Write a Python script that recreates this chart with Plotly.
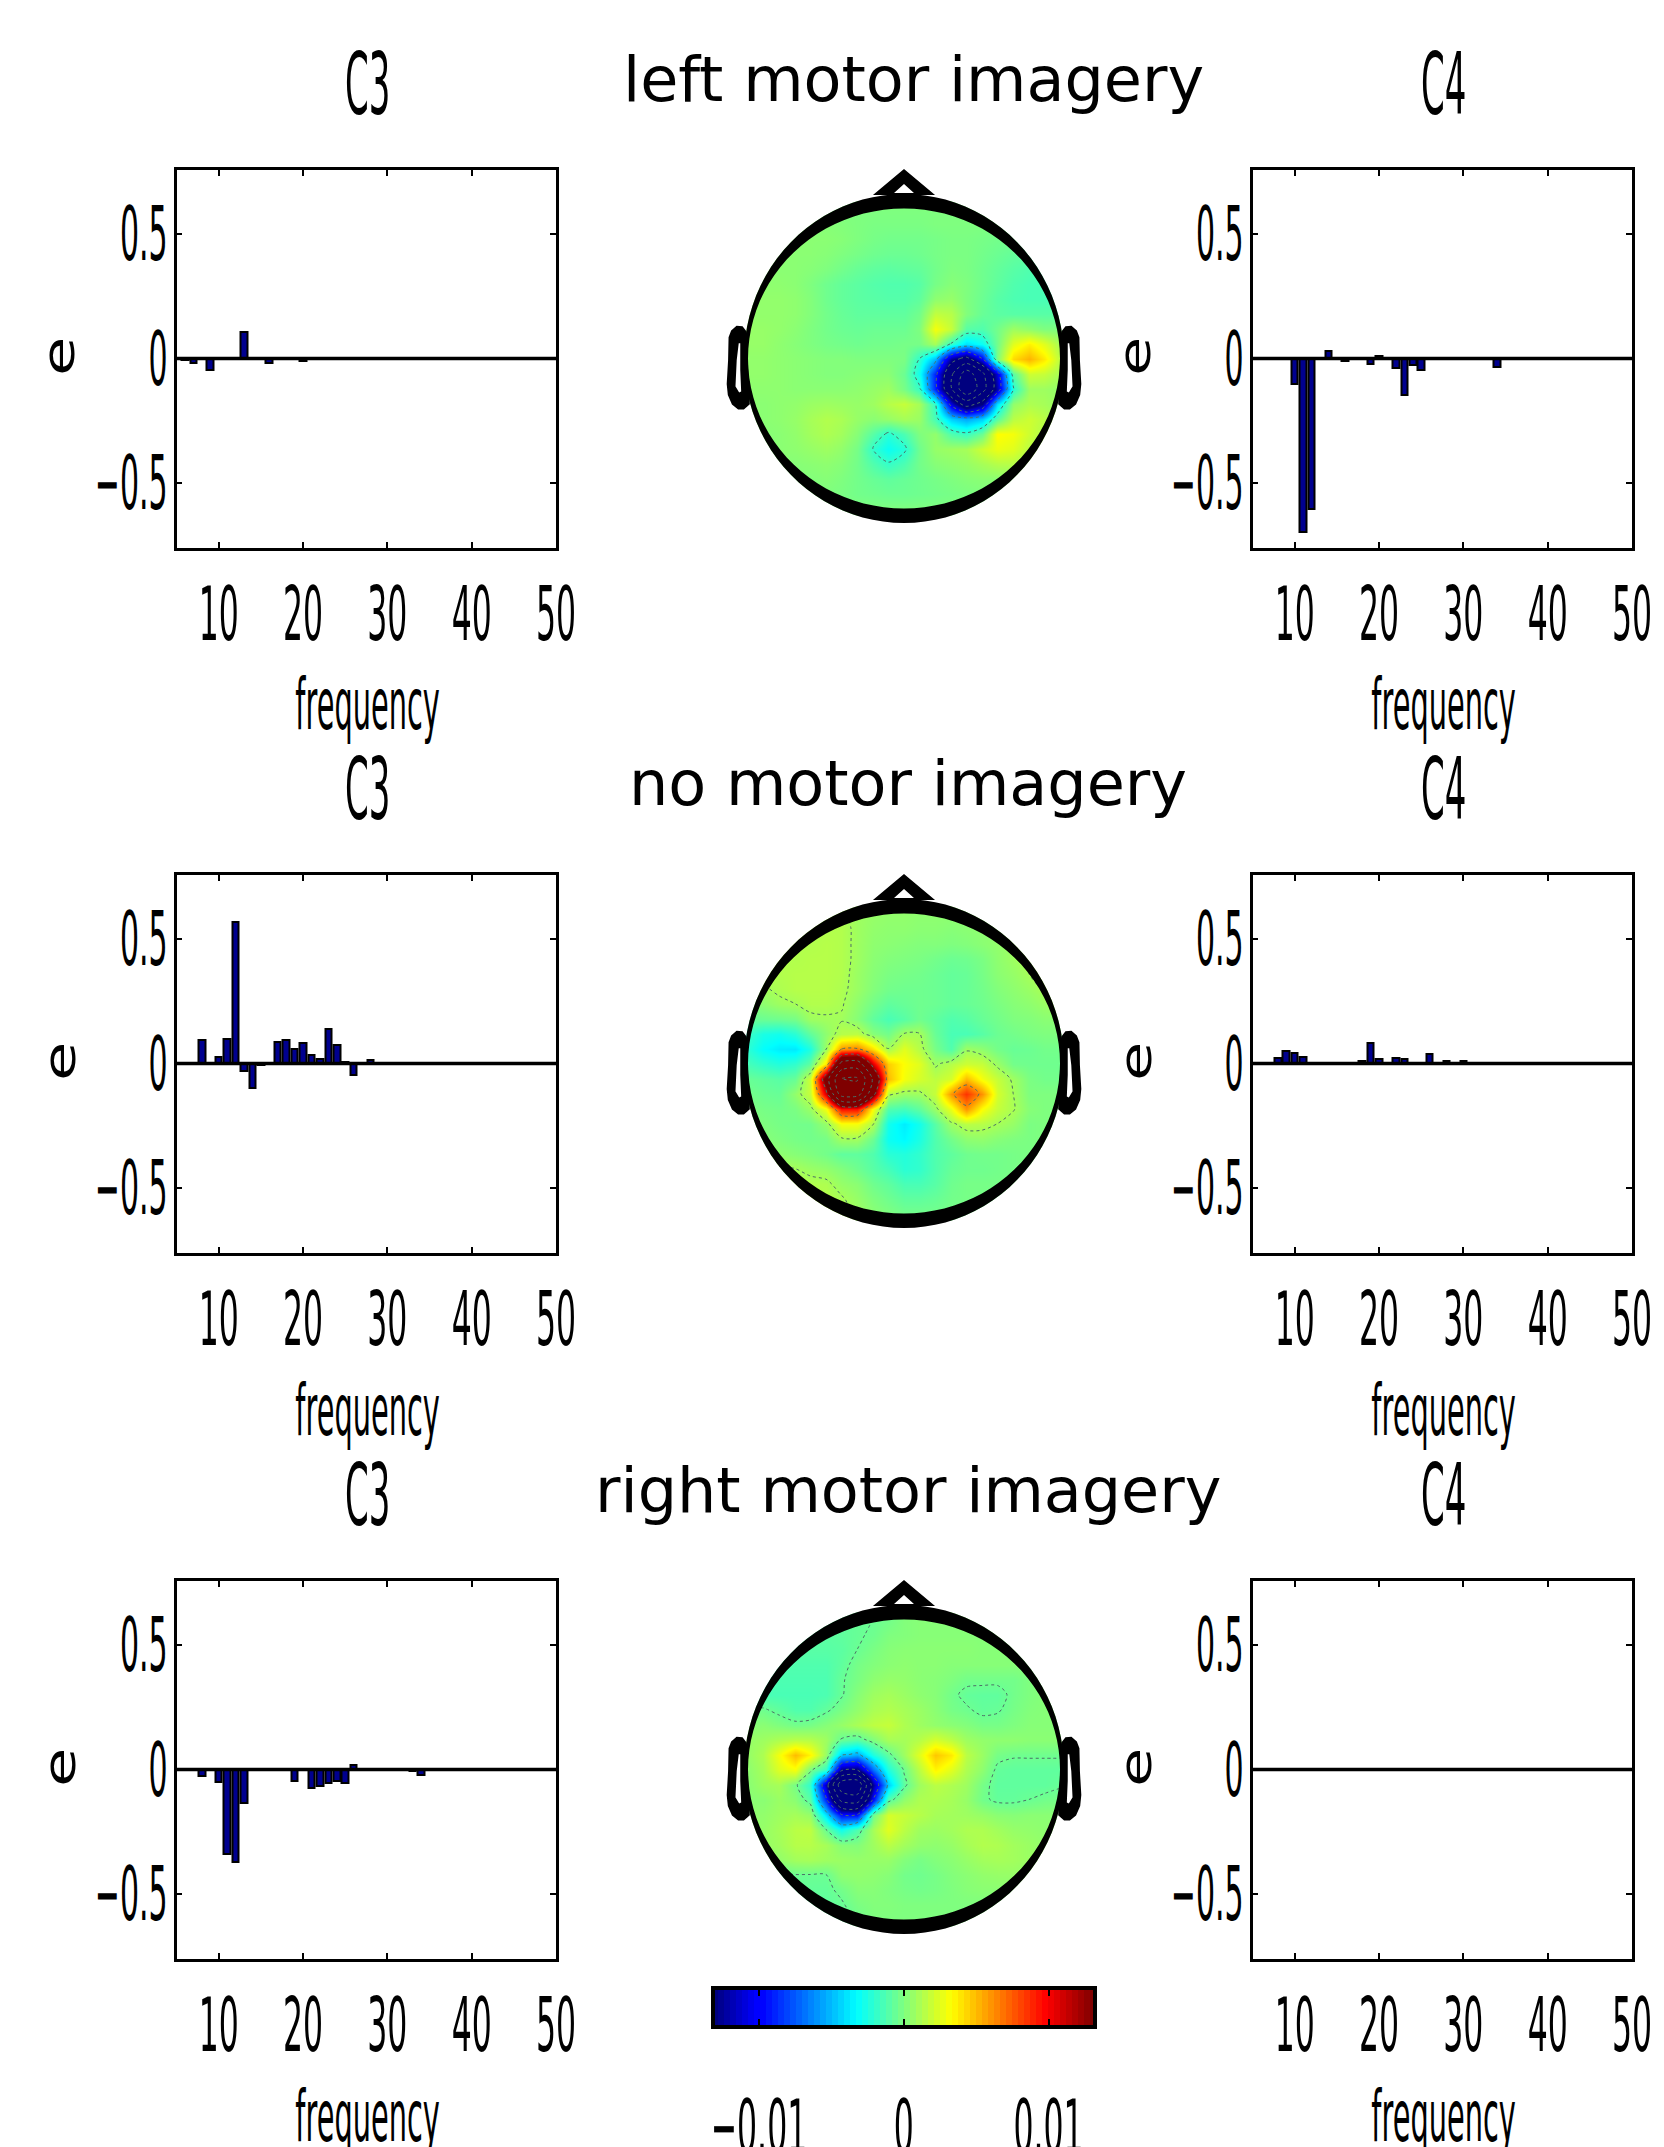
import numpy as np
import plotly.graph_objects as go

W, H = 1664, 2147

# ---------- data ----------
freq = list(range(6, 51))
freq_ticks = [10, 20, 30, 40, 50]
theta_ticks = [-0.5, 0, 0.5]
tail = [0] * 5

left_c3 = [-.005, -.02, 0, -.048, 0, 0, 0, .105, 0, 0, -.02, 0, 0, 0, -.012, 0, 0, 0, 0, 0,
           .004, .004, 0, 0, 0] + tail * 4
left_c4 = [0, 0, 0, 0, -.101, -.698, -.604, 0, .03, 0, -.009, 0, 0, -.021, .009,
           0, -.037, -.148, -.025, -.047, 0, -.003, 0, 0, 0, 0, 0, 0, -.033, 0] + tail * 3
none_c3 = [0, 0, .094, .004, .027, .098, .568, -.029, -.098, -.005, .003, .087, .094, .06, .082,
           .033, .02, .139, .076, .008, -.045, .003, .013, 0, 0] + tail * 4
none_c4 = [0, 0, .024, .05, .044, .027, 0, 0, 0, 0, .003, 0, .009, .084, .02,
           .002, .024, .017, 0, .003, .037, 0, .012, 0, .009] + tail * 4
right_c3 = [0, 0, -.027, -.003, -.05, -.34, -.372, -.135, 0, 0, 0, -.002, 0, -.048, 0,
            -.076, -.068, -.055, -.045, -.056, .02, -.003, -.003, 0, .002, 0, 0, -.005, -.024, 0] + tail * 3
right_c4 = [0] * 45

row_titles = ["left motor imagery", "no motor imagery", "right motor imagery"]
channels = ["C3", "C4"]
colorbar_ticks = [-0.01, 0, 0.01]
colorbar_labels = ["−0.01", "0", "0.01"]

# scalp maps, in units of 1e-4, top row first, left column first
map_left = [
    [0] * 21,
    [2,2,2,2,2,2,1,0,-1,-1,-1,-1,0,0,0,0,-1,-1,-1,-1,-1],
    [3,3,3,3,3,3,2,0,-2,-3,-3,-3,-2,-1,-1,-2,-3,-3,-3,-3,-3],
    [3,3,3,3,3,2,0,-2,-4,-5,-5,-4,-2,-1,-1,-3,-5,-7,-8,-8,-8],
    [3,3,3,3,2,0,-3,-6,-8,-9,-8,-7,-3,0,-1,-4,-7,-10,-12,-12,-12],
    [4,4,4,3,0,-4,-7,-9,-11,-12,-12,-10,-2,2,0,-4,-8,-12,-14,-14,-14],
    [5,5,5,4,1,-4,-7,-9,-10,-11,-11,-8,4,6,0,-5,-10,-13,-14,-14,-14],
    [5,5,5,4,1,-3,-6,-8,-8,-8,-8,-3,17,14,1,-6,-9,-10,-10,-10,-10],
    [6,6,5,3,0,-3,-5,-6,-5,-5,-5,0,30,18,-10,-12,-3,8,4,0,0],
    [6,6,4,2,0,-2,-3,-4,-3,-3,-2,-2,10,-20,-40,-30,-3,25,36,25,10],
    [5,5,4,3,2,1,1,0,0,0,-1,-20,-50,-125,-150,-100,0,42,52,38,15],
    [5,5,4,3,2,1,1,2,3,3,-5,-28,-90,-170,-240,-190,-110,-10,20,18,10],
    [4,4,4,3,3,3,3,4,6,8,-2,-18,-90,-175,-260,-200,-120,-22,8,8,5],
    [3,3,4,5,7,8,7,6,8,14,18,10,-20,-110,-160,-130,-40,5,12,10,6],
    [3,3,4,6,10,13,11,6,3,6,10,7,-15,-45,-55,-45,-10,15,20,15,8],
    [2,2,3,5,9,12,9,2,-10,-22,-13,0,5,-12,-18,-5,33,30,20,12,6],
    [2,2,3,4,6,8,5,-2,-20,-30,-23,-4,6,8,10,20,28,25,15,8,4],
    [1,1,2,2,3,4,2,-3,-12,-19,-13,-3,2,4,6,10,14,14,6,3,2],
    [0,0,0,1,1,2,0,-3,-6,-8,-6,-4,-2,0,2,3,3,3,1,0,0],
    [0,0,0,0,0,0,-1,-3,-4,-5,-5,-4,-3,-2,-1,0,0,0,0,0,0],
    [0] * 21,
]
map_none = [
    [11,11,11,11,11,11,11,8,6,5,5,4,4,4,4,4,4,4,4,4,4],
    [12,12,12,12,12,13,13,8,5,4,4,3,3,2,3,4,4,5,6,6,6],
    [13,13,13,13,13,14,13,8,4,3,2,1,1,0,1,3,5,7,8,9,9],
    [13,13,13,13,14,14,13,8,3,1,0,-1,-3,-5,-4,-1,4,8,11,12,12],
    [13,13,13,14,14,14,13,7,2,-1,-2,-3,-5,-7,-6,-2,3,6,10,13,13],
    [6,9,12,14,14,14,12,7,1,-3,-4,-4,-5,-7,-6,-3,1,4,7,11,13],
    [2,4,8,10,13,13,11,4,-3,-8,-6,-4,-5,-7,-6,-4,-1,2,4,7,10],
    [-6,-5,-4,-2,8,9,9,2,-8,-14,-10,-4,-8,-12,-10,-6,-3,0,1,3,3],
    [-18,-26,-28,-22,-8,4,14,16,2,-3,10,10,-6,-14,-14,-10,-5,-3,-1,0,0],
    [-22,-32,-37,-38,-25,8,60,65,40,10,25,14,-2,-12,8,4,-3,-6,-5,-3,-3],
    [-15,-20,-24,-20,-8,40,190,200,105,45,32,25,8,14,20,18,7,-3,-4,-4,-4],
    [-6,-8,-10,-6,20,150,285,290,170,50,30,22,16,22,50,30,18,8,-1,-3,-3],
    [-3,-5,-6,5,18,110,260,260,140,14,7,8,18,60,85,60,22,10,0,0,0],
    [0,-2,-3,-1,7,30,95,95,30,-12,-15,-8,7,28,60,32,18,11,2,0,0],
    [2,0,-2,-3,-3,6,30,30,12,-28,-37,-28,-10,8,15,14,10,6,-1,0,0],
    [4,2,0,-2,-3,-2,9,9,-5,-30,-34,-26,-12,-3,4,5,2,0,-1,0,0],
    [7,6,4,2,0,-3,-8,-8,-12,-22,-24,-20,-12,-8,-4,-3,-3,-2,-1,0,0],
    [11,11,11,10,7,5,1,-4,-10,-15,-22,-20,-12,-6,-4,-4,-3,-2,-1,0,0],
    [14,14,14,13,13,12,6,3,-4,-8,-14,-14,-10,-4,-2,-2,-2,-1,0,0,0],
    [14,14,14,14,14,14,11,6,0,-4,-8,-8,-6,-3,-2,-2,-2,-1,0,0,0],
    [14,14,14,14,14,14,14,8,3,0,-3,-3,-3,-2,-2,-2,-2,-1,0,0,0],
]
map_right = [
    [-8,-8,-8,-8,-8,-8,-8,-6,-5,-3,1,2,2,2,2,2,2,2,2,2,2],
    [-9,-9,-9,-9,-9,-9,-8,-6,-4,0,1,2,2,2,2,2,2,2,2,2,2],
    [-10,-10,-10,-10,-10,-10,-9,-5,-1,2,3,3,3,3,3,2,2,2,2,2,2],
    [-12,-12,-12,-12,-12,-12,-8,-2,1,3,4,3,3,2,2,2,2,2,2,2,2],
    [-13,-13,-13,-13,-13,-13,-6,-1,4,6,5,3,2,0,-3,-3,-3,-3,0,2,2],
    [-14,-14,-14,-14,-14,-13,-6,2,8,10,7,4,2,-3,-7,-8,-8,-3,0,2,2],
    [-3,-4,-8,-12,-12,-7,-1,5,11,13,10,7,3,-2,-4,-7,-6,-2,1,2,2],
    [2,3,0,-3,-2,2,6,11,16,18,12,8,5,3,1,-2,-2,0,2,2,2],
    [6,8,12,15,14,8,-6,-10,0,10,10,14,22,16,8,5,4,4,3,3,3],
    [6,12,30,50,35,6,-45,-55,-25,-8,8,25,47,38,15,7,-2,-4,-4,-4,-4],
    [4,10,24,30,-2,-20,-130,-135,-70,-25,-4,15,35,25,12,4,-7,-8,-8,-8,-8],
    [3,8,10,-2,-20,-120,-260,-270,-125,-45,-8,8,15,12,8,-2,-8,-8,-8,-8,-6],
    [3,3,7,3,-10,-90,-200,-210,-95,-10,5,12,12,10,6,-3,-7,-7,-5,-3,-2],
    [4,5,8,10,6,-40,-95,-95,-4,22,18,14,10,9,8,6,3,2,3,3,3],
    [5,6,10,15,16,-5,-28,-12,10,25,15,8,7,9,12,12,9,6,5,4,4],
    [4,6,9,14,14,10,2,1,8,15,9,5,4,6,10,13,12,9,7,5,4],
    [2,3,5,9,10,8,7,6,6,6,1,-2,1,3,6,9,10,9,7,5,4],
    [-6,-6,-6,-5,-5,-5,4,5,4,2,-3,-4,-2,1,3,5,6,6,4,2,2],
    [-7,-7,-7,-7,-7,-7,-3,2,2,0,-2,-3,-2,0,2,3,3,3,2,1,1],
    [-8,-8,-8,-8,-8,-8,-6,-1,1,1,0,0,0,0,0,0,0,0,0,0,0],
    [-8,-8,-8,-8,-8,-8,-8,-4,0,0,0,0,0,0,0,0,0,0,0,0,0],
]

bars = [[left_c3, left_c4], [none_c3, none_c4], [right_c3, right_c4]]
maps = [map_left, map_none, map_right]
contour_spec = [(-260, -20, 40), (10, 300, 55), (-275, -5, 45)]

# ---------- styles and layout ----------
jet = [[0, "#00007f"], [0.11, "#0000ff"], [0.125, "#0000ff"], [0.375, "#00ffff"],
       [0.5, "#7fff7f"], [0.625, "#ffff00"], [0.875, "#ff0000"], [1, "#7f0000"]]
CLIM = 0.01307
FONT = "DejaVu Sans"
TICK_SIZE = 75
row_zero = [358.5, 1063.5, 1769.5]
panel_up, panel_down = 188.5, 189.5
panel_x = [(176.5, 556), (1252.5, 1632)]
y_per_unit = 249.0
head_cx, head_rx, head_ry = 904, 156, 150
head_frame = (720, 1088)
head_up, head_down = 195, 170
grid_u = np.linspace(-1, 1, 21)
grid_v = np.linspace(1, -1, 21)


def xdom(a, b):
    return [a / W, b / W]


def ydom(top, bottom):
    return [1 - bottom / H, 1 - top / H]


def ellipse(rx, ry, n=96):
    t = np.linspace(0, 2 * np.pi, n, endpoint=False)
    pts = [f"{rx*np.cos(a):.4f},{ry*np.sin(a):.4f}" for a in t]
    return "M" + " L".join(pts) + " Z"


def poly(pts, sign=1):
    return "M" + " L".join(f"{sign*x:.4f},{y:.4f}" for x, y in pts) + " Z"


ear_outer = [(-1.019, .177), (-1.04, .205), (-1.07, .208), (-1.10, .18), (-1.115, .14),
             (-1.118, -.011), (-1.127, -.17), (-1.12, -.24), (-1.095, -.30), (-1.06, -.33),
             (-1.03, -.33), (-.998, -.30)]
ear_inner = [(-1.068, .111), (-1.04, .111), (-1.04, -.077), (-1.034, -.225), (-1.06, -.24),
             (-1.09, -.188), (-1.082, -.011)]
nose_outer = [(-.199, 1.09), (0, 1.263), (.199, 1.09)]
nose_inner = [(-.064, 1.103), (0, 1.163), (.064, 1.103)]
OUTER_RX, OUTER_RY = 160 / 156, 164.5 / 150

fig = go.Figure()
layout = dict(template="none", width=W, height=H, margin=dict(l=0, r=0, t=0, b=0, pad=0),
              paper_bgcolor="white",
              plot_bgcolor="white", showlegend=False, bargap=0, barmode="overlay",
              font=dict(family=FONT, color="black"))
shapes, annotations = [], []
ulim = (head_frame[1] - head_cx) / head_rx


def note(text, px, py, size=72, angle=0):
    annotations.append(dict(text=text, x=px / W, y=1 - py / H, xref="paper", yref="paper",
                            xanchor="center", yanchor="middle", showarrow=False, textangle=angle,
                            font=dict(family=FONT, size=size, color="black")))


for r in range(3):
    y0 = row_zero[r]
    for c in range(2):
        n = 3 * r + (1 if c == 0 else 3)
        xa, ya = f"x{n}", f"y{n}"
        fig.add_trace(go.Bar(x=freq, y=bars[r][c], width=0.78, xaxis=xa, yaxis=ya,
                             marker=dict(color="#00008f", line=dict(color="black", width=2))))
        fig.add_trace(go.Scatter(x=[4.5, 50.5], y=[0, 0], mode="lines", xaxis=xa, yaxis=ya,
                                 cliponaxis=False, line=dict(color="black", width=3.5),
                                 hoverinfo="skip"))
        a, b = panel_x[c]
        common = dict(showline=True, mirror="allticks", linecolor="black", linewidth=2.6,
                      ticks="inside", ticklen=6, tickwidth=2, tickcolor="black", showgrid=False,
                      zeroline=False, automargin=False, tickangle=0, ticklabeloverflow="allow",
                      tickfont=dict(family=FONT, size=TICK_SIZE, color="black"))
        layout[f"xaxis{n}"] = dict(anchor=ya, domain=xdom(a, b), range=[5, 50], tickmode="array",
                                   tickvals=freq_ticks, ticklabelstandoff=-1, **common)
        layout[f"yaxis{n}"] = dict(anchor=xa, domain=ydom(y0 - panel_up, y0 + panel_down),
                                   range=[-panel_down / y_per_unit, panel_up / y_per_unit],
                                   tickmode="array", tickvals=theta_ticks,
                                   ticktext=["−0.5", "0", "0.5"], ticklabelstandoff=-9, **common)
        cx = (a + b) / 2 + 1
        note(channels[c], cx, y0 - 274, size=85)
        note("frequency", cx, y0 + 346)
        note("e", a - 117, y0 - 2, size=64, angle=-90)

    # scalp map
    n = 3 * r + 2
    xa, ya = f"x{n}", f"y{n}"
    z = np.array(maps[r]) * 1e-4
    fig.add_trace(go.Heatmap(x=grid_u, y=grid_v, z=z, xaxis=xa, yaxis=ya, zsmooth="best",
                             colorscale=jet, zmin=-CLIM, zmax=CLIM, showscale=False))
    s, e, step = contour_spec[r]
    fig.add_trace(go.Contour(x=grid_u, y=grid_v, z=z, xaxis=xa, yaxis=ya, showscale=False,
                             autocontour=False,
                             contours=dict(coloring="none", start=s * 1e-4, end=e * 1e-4, size=step * 1e-4),
                             line=dict(color="#4c6f66", width=1, dash="dot", smoothing=0.8),
                             hoverinfo="skip"))
    vtop, vbot = head_up / head_ry, -head_down / head_ry
    layout[f"xaxis{n}"] = dict(anchor=ya, domain=xdom(*head_frame), range=[-ulim, ulim], visible=False)
    layout[f"yaxis{n}"] = dict(anchor=xa, domain=ydom(y0 - head_up, y0 + head_down),
                               range=[vbot, vtop], visible=False)
    box = f"M{-ulim},{vbot} L{ulim},{vbot} L{ulim},{vtop} L{-ulim},{vtop} Z "
    base = dict(xref=xa, yref=ya, type="path", layer="above", line=dict(width=0), fillrule="evenodd")
    ear = dict(xref=xa, yref=ya, type="path", layer="above", fillrule="evenodd",
               line=dict(width=3, color="black"), fillcolor="black")
    shapes += [
        dict(path=box + ellipse(OUTER_RX, OUTER_RY), fillcolor="white", **base),
        dict(path=ellipse(OUTER_RX, OUTER_RY) + " " + ellipse(1, 1), fillcolor="black", **base),
        dict(path=poly(nose_outer) + " " + poly(nose_inner), fillcolor="black", **base),
        dict(path=poly(ear_outer) + " " + poly(ear_inner), **ear),
        dict(path=poly(ear_outer, -1) + " " + poly(ear_inner, -1), **ear),
    ]

note(row_titles[0], 913, 79, size=62)
note(row_titles[1], 908, 784, size=62)
note(row_titles[2], 908, 1490, size=62)

# colour bar
levels = np.linspace(-CLIM, CLIM, 64)
fig.add_trace(go.Heatmap(x=levels, y=[0, 1], z=[levels, levels], xaxis="x10", yaxis="y10",
                         colorscale=jet, zmin=-CLIM, zmax=CLIM, showscale=False))
layout["xaxis10"] = dict(anchor="y10", domain=xdom(714.5, 1093), range=[-CLIM, CLIM], showline=True,
                         mirror="allticks", linecolor="black", linewidth=3.5, ticks="inside",
                         ticklen=6, tickwidth=2, tickcolor="black", showgrid=False, zeroline=False,
                         tickmode="array", tickvals=colorbar_ticks, ticktext=colorbar_labels,
                         ticklabelstandoff=34, automargin=False, tickangle=0, ticklabeloverflow="allow",
                         tickfont=dict(family=FONT, size=TICK_SIZE, color="black"))
layout["yaxis10"] = dict(anchor="x10", domain=ydom(1990, 2025), range=[-0.5, 1.5], showline=True,
                         mirror=True, linecolor="black", linewidth=3.5, ticks="", showticklabels=False,
                         showgrid=False, zeroline=False, automargin=False)
layout["shapes"] = shapes
layout["annotations"] = annotations
fig.update_layout(**layout)

SQUEEZE = """
document.body.style.margin = '0';
document.documentElement.style.overflow = 'hidden';
var squeeze = function (el, s, pivot) {
  var ctm = el.getScreenCTM(), par = el.parentNode.getScreenCTM();
  if (!ctm || !par) { return; }
  var svg = el.ownerSVGElement, r = el.getBoundingClientRect();
  var px = pivot === 'right' ? r.right : r.left + r.width / 2;
  var m = svg.createSVGMatrix().translate(px, 0).scaleNonUniform(s, 1).translate(-px, 0);
  var f = par.inverse().multiply(m).multiply(ctm);
  el.setAttribute('transform', 'matrix(' + [f.a, f.b, f.c, f.d, f.e, f.f].join(' ') + ')');
};
document.querySelectorAll('.yaxislayer-above text').forEach(function (t) { squeeze(t, 0.40, 'right'); });
document.querySelectorAll('.xaxislayer-above text').forEach(function (t) { squeeze(t, 0.42, 'center'); });
document.querySelectorAll('.annotation-text').forEach(function (t) {
  var s = t.textContent;
  if (s.indexOf('imagery') >= 0) { return; }
  squeeze(t, s === 'e' ? 0.7 : 0.4, 'center');
});
"""

fig.write_html("out.html", post_script=SQUEEZE, config=dict(displayModeBar=False))
